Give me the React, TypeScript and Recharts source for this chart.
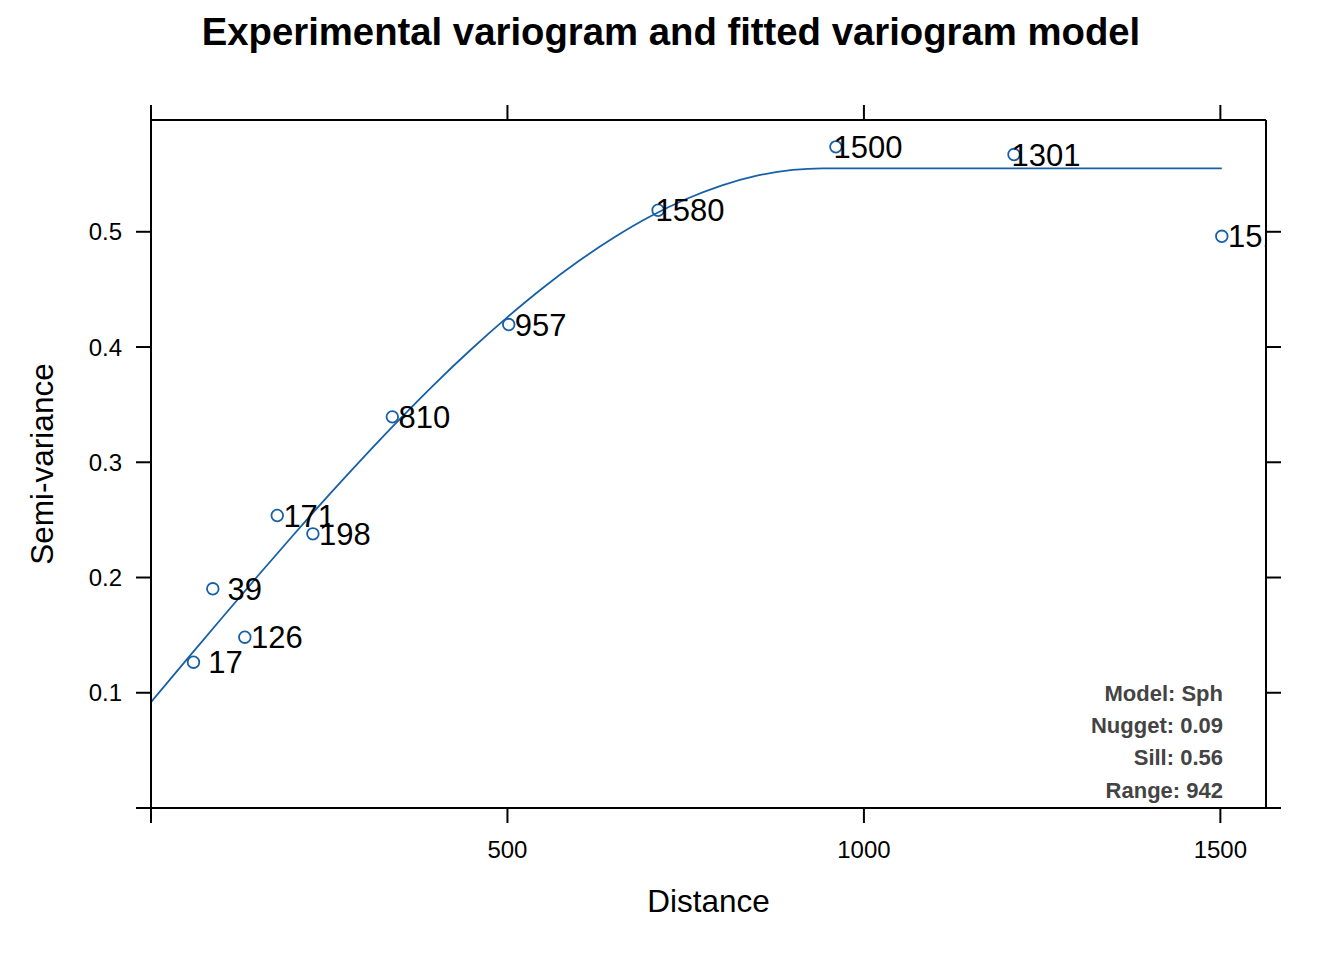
import React from 'react';
import { ComposedChart, XAxis, YAxis, Scatter, Line } from 'recharts';

// ---- Experimental variogram ----
const distances = [59.6, 86.7, 131.6, 177.1, 227.1, 338.5, 501.8, 711.3, 960.7, 1210.5, 1502];
const semivariances = [0.1265, 0.1902, 0.1482, 0.2538, 0.2379, 0.3394, 0.4195, 0.5187, 0.5737, 0.567, 0.4961];
const pairCounts = ['17', '39', '126', '171', '198', '810', '957', '1580', '1500', '1301', '151'];

// ---- Fitted model curve ----
const modelDistances = [0, 50, 100, 150, 200, 250, 300, 350, 400, 450, 500, 550, 600, 650, 700, 750, 800, 850, 900, 942, 1502];
const modelValues = [
  0.0918, 0.1287, 0.1653, 0.2015, 0.2371, 0.2719, 0.3056, 0.3381, 0.3692, 0.3985, 0.426, 0.4515, 0.4746, 0.4952,
  0.5132, 0.5282, 0.5401, 0.5487, 0.5537, 0.5551, 0.5551,
];

// ---- Axes ----
const xTicks = [0, 500, 1000, 1500];
const yTicks = [0, 0.1, 0.2, 0.3, 0.4, 0.5];
const xDomain = [0, 1564];
const yDomain = [0, 0.597];

// ---- Texts ----
const titleText = 'Experimental variogram and fitted variogram model';
const xTitle = 'Distance';
const yTitle = 'Semi-variance';
const modelLabels = ['Model: Sph', 'Nugget: 0.09', 'Sill: 0.56', 'Range: 942'];

const points = distances.map((d, i) => ({ dist: d, gamma: semivariances[i], np: pairCounts[i] }));
const modelData = modelDistances.map((d, i) => ({ dist: d, gamma: modelValues[i] }));

const BLUE = '#1760a8';
const FONT = '"Liberation Sans", Arial, Helvetica, sans-serif';
const AXIS = { stroke: '#000', strokeWidth: 2 };

const PointWithLabel = (props: any) => {
  const { cx, cy } = props;
  if (cx == null || cy == null || isNaN(cx) || isNaN(cy)) return null;
  const np = props.payload?.np ?? props.np;
  return (
    <g>
      <circle cx={cx} cy={cy} r={5.8} fill="none" stroke={BLUE} strokeWidth={1.8} />
      <text x={cx + 32} y={cy + 11} textAnchor="middle" fontSize={31} fontFamily={FONT} fill="#000">
        {np}
      </text>
    </g>
  );
};

const BottomTick = (props: any) => {
  const { x, y, payload } = props;
  if (payload.value === 0) return <g />;
  return (
    <text x={x} y={y + 35} textAnchor="middle" fontSize={24} fontFamily={FONT} fill="#000">
      {payload.value}
    </text>
  );
};

const LeftTick = (props: any) => {
  const { x, y, payload } = props;
  if (payload.value === 0) return <g />;
  return (
    <text x={x - 14} y={y + 8.6} textAnchor="end" fontSize={24} fontFamily={FONT} fill="#000">
      {Number(payload.value).toFixed(1)}
    </text>
  );
};

const EmptyTick = () => <g />;

export default function App() {
  return (
    <div style={{ position: 'absolute', left: 0, top: 0, width: 1344, height: 960, background: '#fff' }}>
      <ComposedChart width={1344} height={960} margin={{ top: 90, right: 48, bottom: 92, left: 91 }}>
        <XAxis
          xAxisId="x"
          dataKey="dist"
          type="number"
          orientation="bottom"
          domain={xDomain}
          ticks={xTicks}
          allowDataOverflow
          height={60}
          tickSize={15}
          tickMargin={0}
          axisLine={AXIS}
          tickLine={AXIS}
          tick={<BottomTick />}
        />
        <XAxis
          xAxisId="top"
          dataKey="dist"
          type="number"
          orientation="top"
          domain={xDomain}
          ticks={xTicks}
          allowDataOverflow
          height={30}
          tickSize={15}
          tickMargin={0}
          axisLine={AXIS}
          tickLine={AXIS}
          tick={<EmptyTick />}
        />
        <YAxis
          yAxisId="y"
          dataKey="gamma"
          type="number"
          orientation="left"
          domain={yDomain}
          ticks={yTicks}
          allowDataOverflow
          width={60}
          tickSize={15}
          tickMargin={0}
          axisLine={AXIS}
          tickLine={AXIS}
          tick={<LeftTick />}
        />
        <YAxis
          yAxisId="right"
          dataKey="gamma"
          type="number"
          orientation="right"
          domain={yDomain}
          ticks={yTicks}
          allowDataOverflow
          width={30}
          tickSize={15}
          tickMargin={0}
          axisLine={AXIS}
          tickLine={AXIS}
          tick={<EmptyTick />}
        />
        <Line
          xAxisId="x"
          yAxisId="y"
          data={modelData}
          dataKey="gamma"
          type="monotone"
          stroke={BLUE}
          strokeWidth={1.8}
          dot={false}
          activeDot={false}
          isAnimationActive={false}
        />
        <Scatter
          xAxisId="x"
          yAxisId="y"
          data={points}
          dataKey="gamma"
          shape={(p: any) => <PointWithLabel {...p} />}
          isAnimationActive={false}
        />
      </ComposedChart>
      <svg
        width={1344}
        height={960}
        style={{ position: 'absolute', left: 0, top: 0, pointerEvents: 'none' }}
      >
        <text x={671} y={45} textAnchor="middle" fontSize={38.3} fontWeight="bold" fontFamily={FONT} fill="#000">
          {titleText}
        </text>
        <text x={708.5} y={912} textAnchor="middle" fontSize={31.5} fontFamily={FONT} fill="#000">
          {xTitle}
        </text>
        <text
          x={53}
          y={464}
          textAnchor="middle"
          fontSize={31.5}
          fontFamily={FONT}
          fill="#000"
          transform="rotate(-90 53 464)"
        >
          {yTitle}
        </text>
        {modelLabels.map((t, i) => (
          <text
            key={t}
            x={1223}
            y={701 + i * 32.2}
            textAnchor="end"
            fontSize={22}
            fontWeight="bold"
            fontFamily={FONT}
            fill="#444"
          >
            {t}
          </text>
        ))}
      </svg>
    </div>
  );
}
